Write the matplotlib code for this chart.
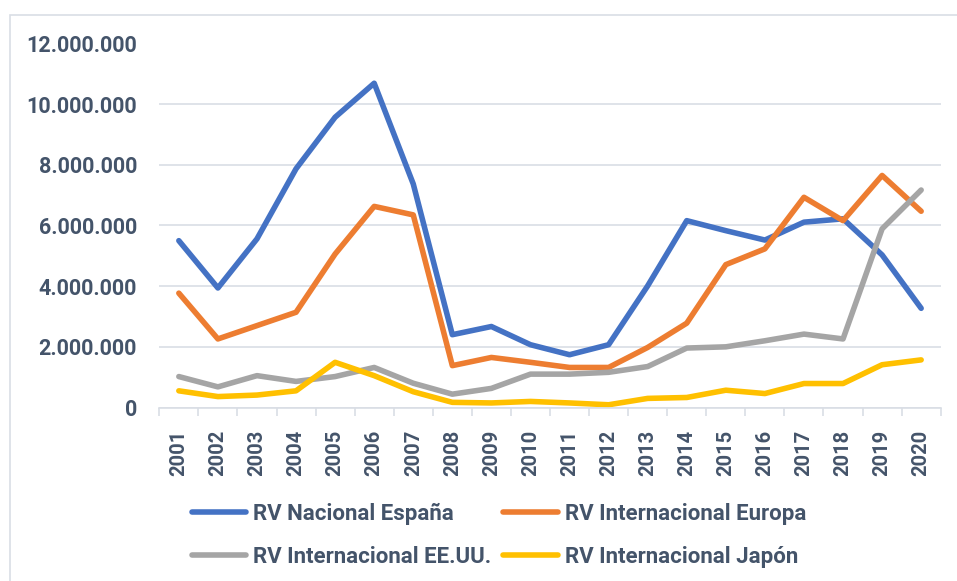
import matplotlib
matplotlib.use("Agg")
import matplotlib.pyplot as plt
from matplotlib.patches import Rectangle
from matplotlib.ticker import FuncFormatter, MultipleLocator

# data
years = [str(y) for y in range(2001, 2021)]
espana = [5.50, 3.94, 5.56, 7.87, 9.57, 10.69, 7.37, 2.40, 2.67, 2.07,
          1.74, 2.07, 4.01, 6.16, 5.83, 5.52, 6.11, 6.22, 5.03, 3.27]
europa = [3.77, 2.26, 2.70, 3.14, 5.06, 6.63, 6.35, 1.38, 1.65, 1.49,
          1.32, 1.32, 1.98, 2.78, 4.71, 5.23, 6.93, 6.16, 7.65, 6.47]
eeuu = [1.02, 0.68, 1.05, 0.86, 1.02, 1.32, 0.80, 0.44, 0.63, 1.10,
        1.10, 1.16, 1.35, 1.96, 2.00, 2.20, 2.42, 2.26, 5.89, 7.17]
japon = [0.55, 0.36, 0.41, 0.55, 1.49, 1.05, 0.52, 0.17, 0.15, 0.20,
         0.15, 0.09, 0.30, 0.33, 0.57, 0.46, 0.79, 0.79, 1.41, 1.57]
series = [
    ("RV Nacional España", espana, "#4472C4"),
    ("RV Internacional Europa", europa, "#ED7D31"),
    ("RV Internacional EE.UU.", eeuu, "#A5A5A5"),
    ("RV Internacional Japón", japon, "#FFC000"),
]

txt = "#44546A"
grid = "#D9DEE5"
plt.rcParams['font.family'] = ['Roboto', 'DejaVu Sans']
plt.rcParams['font.weight'] = 'bold'

W, H = 957, 581
fig = plt.figure(figsize=(W / 100, H / 100), dpi=100)
ax = fig.add_axes([159.3 / W, 1 - 407.5 / H, (940.7 - 159.3) / W, (407.5 - 43.5) / H])

# chart border (runs off the right and bottom edge in the reference)
fig.patches.append(Rectangle((10 / W, -0.1), 1.2, 1 - 15 / H + 0.1, transform=fig.transFigure,
                             fill=False, edgecolor="#D9DEE5", lw=1.2))

x = list(range(len(years)))
handles = {}
for name, vals, col in series:
    ln, = ax.plot(x, [v * 1e6 for v in vals], color=col, lw=4,
                  solid_joinstyle='round', solid_capstyle='round', label=name)
    handles[name] = ln

ax.set_xlim(-0.5, len(years) - 0.5)
ax.set_ylim(0, 12e6)
ax.yaxis.set_major_locator(MultipleLocator(2e6))
ax.yaxis.set_major_formatter(FuncFormatter(lambda v, p: f"{int(v):,}".replace(",", ".")))
ax.grid(axis='y', color=grid, lw=1.2)
ax.set_axisbelow(True)
for s in ['top', 'right', 'left']:
    ax.spines[s].set_visible(False)
ax.spines['bottom'].set_color(grid)
ax.spines['bottom'].set_linewidth(1.2)

ax.set_xticks(x)
ax.set_xticklabels(years, rotation=90, fontsize=14.5, color=txt, fontweight='bold')
ax.set_xticks([i - 0.5 for i in range(len(years) + 1)], minor=True)
ax.tick_params(axis='x', which='major', length=0, pad=16)
ax.tick_params(axis='x', which='minor', length=6, color=grid, width=1.2)
ax.tick_params(axis='y', length=0, pad=16, labelsize=15.5, labelcolor=txt)

order = ["RV Nacional España", "RV Internacional EE.UU.", "RV Internacional Europa", "RV Internacional Japón"]
leg = fig.legend([handles[n] for n in order], order, ncol=2, loc='upper left',
                 bbox_to_anchor=(172 / W, 1 - 483 / H), frameon=False,
                 prop={'weight': 'bold', 'size': 16}, labelcolor=txt,
                 handlelength=2.45, handletextpad=0.3, columnspacing=0.55, labelspacing=0.95)

fig.savefig("out.png", dpi=100)
